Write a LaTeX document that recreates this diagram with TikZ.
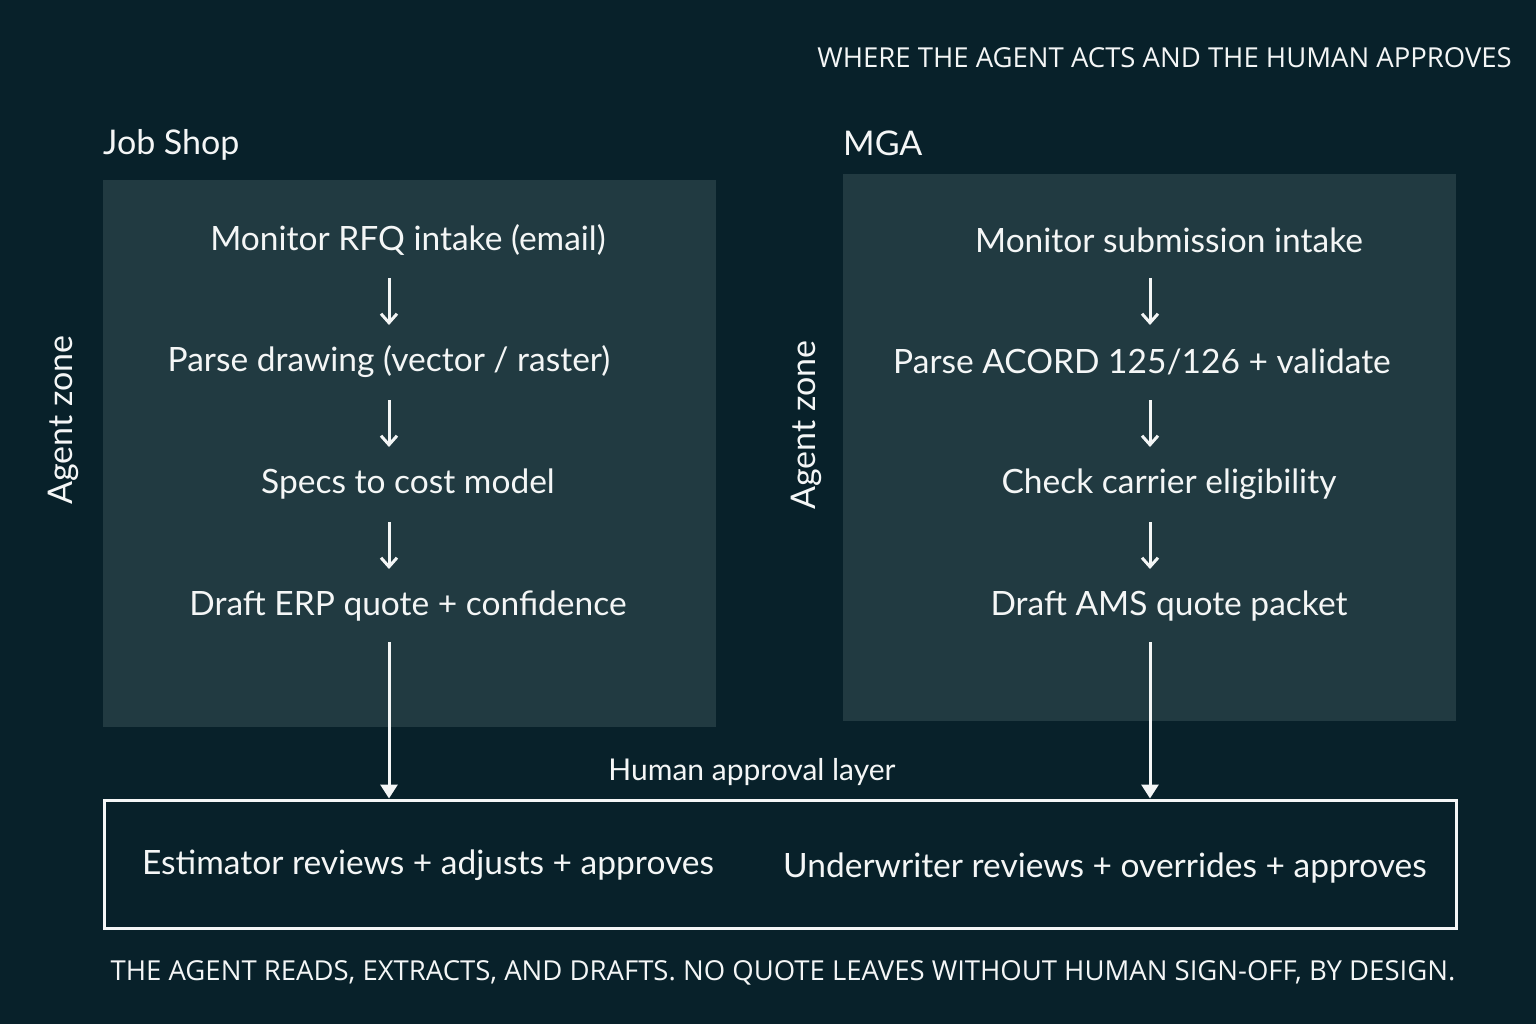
\documentclass[tikz,border=0pt]{standalone}
\usepackage{fontspec}
\setmainfont{Lato}
\newfontfamily\capsfont{Open Sans}
\usetikzlibrary{arrows.meta, positioning}
\definecolor{bgteal}{HTML}{08212A}
\definecolor{zonefill}{HTML}{213A41}
\definecolor{inkwhite}{HTML}{F4F6F6}
\tikzset{
  zone box/.style={fill=zonefill, draw=none},
  step text/.style={text=inkwhite, inner sep=0pt, font=\fontsize{33.5}{40}\selectfont},
  side label/.style={text=inkwhite, inner sep=0pt, rotate=90, font=\fontsize{34}{40}\selectfont},
  caps text/.style={text=inkwhite, inner sep=0pt, font=\capsfont\fontsize{27.5}{33}\selectfont},
  flow arrow/.style={-{Straight Barb[length=9pt, width=16pt]}, draw=inkwhite, line width=3pt,
    shorten <=38pt, shorten >=37pt},
  long arrow/.style={-{Triangle[length=14pt, width=17pt]}, draw=inkwhite, line width=3pt,
    shorten <=36pt},
}

\begin{document}
\begin{tikzpicture}[x=1pt, y=-1pt]
    % Canvas
    \fill[bgteal] (0,0) rectangle (1536,1024);
    \useasboundingbox (0,0) rectangle (1536,1024);

    % Title
    \node[caps text, anchor=east] (title) at (1512,58) {WHERE THE AGENT ACTS AND THE HUMAN APPROVES};

    % Zones
    \fill[zone box] (103,180) rectangle (716,727);
    \fill[zone box] (843,174) rectangle (1456,721);
    \node[step text, font=\fontsize{34}{40}\selectfont, anchor=west] (jobshop) at (103,145) {Job Shop};
    \node[step text, font=\fontsize{34}{40}\selectfont, anchor=west] (mga) at (843,143) {MGA};
    \node[side label] (jszone) at (63,420) {Agent zone};
    \node[side label] (mgazone) at (806,425) {Agent zone};

    % Job shop steps
    \coordinate (jsx) at (389,0);
    \node[step text] (js1) at (408,240) {Monitor RFQ intake (email)};
    \node[step text] (js2) at (389,362) {Parse drawing (vector / raster)};
    \node[step text] (js3) at (408,484) {Specs to cost model};
    \node[step text] (js4) at (408,606) {Draft ERP quote + confidence};

    % MGA steps
    \coordinate (mgx) at (1150,0);
    \node[step text] (mg1) at (1169,240) {Monitor submission intake};
    \node[step text] (mg2) at (1142,362) {Parse ACORD 125/126 + validate};
    \node[step text] (mg3) at (1169,484) {Check carrier eligibility};
    \node[step text] (mg4) at (1169,606) {Draft AMS quote packet};

    % Human approval layer
    \node[draw=inkwhite, line width=3pt, minimum width=1352pt, minimum height=128pt,
      inner sep=0pt] (approval) at (780,864) {};
    \node[step text, font=\fontsize{30}{36}\selectfont] (layer) at (752,772) {Human approval layer};
    \node[step text] (estimator) at (428,865) {Estimator reviews + adjusts + approves};
    \node[step text] (underwriter) at (1105,868) {Underwriter reviews + overrides + approves};

    % Arrows
    \draw[flow arrow] (js1 -| jsx) -- (js2 -| jsx);
    \draw[flow arrow] (js2 -| jsx) -- (js3 -| jsx);
    \draw[flow arrow] (js3 -| jsx) -- (js4 -| jsx);
    \draw[flow arrow] (mg1 -| mgx) -- (mg2 -| mgx);
    \draw[flow arrow] (mg2 -| mgx) -- (mg3 -| mgx);
    \draw[flow arrow] (mg3 -| mgx) -- (mg4 -| mgx);
    \draw[long arrow] (js4 -| jsx) -- (approval.north -| jsx);
    \draw[long arrow] (mg4 -| mgx) -- (approval.north -| mgx);

    % Footer
    \node[caps text] (footer) at (783,973) {THE AGENT READS, EXTRACTS, AND DRAFTS. NO QUOTE LEAVES WITHOUT HUMAN SIGN-OFF, BY DESIGN.};
\end{tikzpicture}
\end{document}
